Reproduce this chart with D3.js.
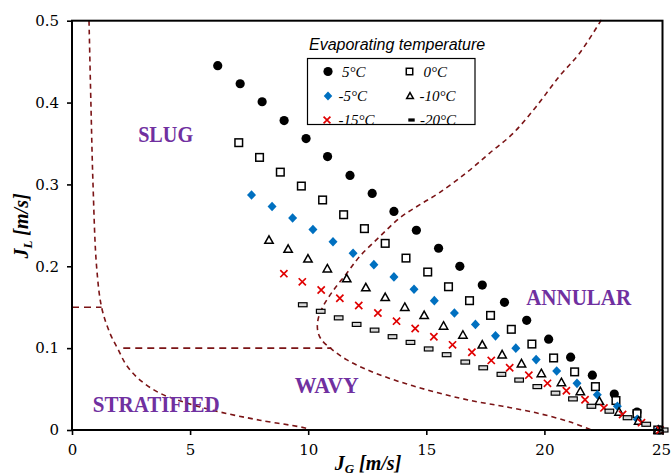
<!DOCTYPE html>
<html>
<head>
<meta charset="utf-8">
<script src="https://cdn.jsdelivr.net/npm/d3@7"></script>
<style>
  body { margin: 0; background: #fff; }
  svg { display: block; }
</style>
</head>
<body>
<svg id="chart" width="671" height="476"></svg>
<script>
// Axis ticks
const xTickValues = [0, 5, 10, 15, 20, 25];
const yTickValues = [0, 0.1, 0.2, 0.3, 0.4, 0.5];

// Evaporating temperature series: superficial gas (J_G) and liquid (J_L) velocities
const seriesLabels = ["5°C", "0°C", "-5°C", "-10°C", "-15°C", "-20°C"];

const jg_5  = [6.17, 7.12, 8.05, 8.98, 9.91, 10.82, 11.77, 12.71, 13.63, 14.58, 15.52, 16.42, 17.37, 18.31, 19.25, 20.18, 21.11, 22.03, 22.96, 23.92, 24.86];
const jl_5  = [0.445, 0.423, 0.401, 0.378, 0.356, 0.334, 0.311, 0.289, 0.267, 0.244, 0.222, 0.200, 0.177, 0.156, 0.134, 0.111, 0.089, 0.067, 0.044, 0.022, 0.000];

const jg_0  = [7.06, 7.94, 8.82, 9.71, 10.61, 11.50, 12.38, 13.26, 14.14, 15.06, 15.94, 16.83, 17.72, 18.60, 19.47, 20.39, 21.28, 22.16, 23.03, 23.92, 24.80];
const jl_0  = [0.351, 0.333, 0.315, 0.298, 0.281, 0.263, 0.246, 0.228, 0.210, 0.193, 0.175, 0.158, 0.140, 0.123, 0.105, 0.088, 0.071, 0.053, 0.036, 0.020, 0.000];

const jg_m5 = [7.60, 8.47, 9.34, 10.20, 11.05, 11.90, 12.78, 13.63, 14.48, 15.34, 16.19, 17.08, 17.93, 18.79, 19.65, 20.52, 21.38, 22.24, 23.09, 23.93, 24.80];
const jl_m5 = [0.287, 0.273, 0.259, 0.245, 0.230, 0.216, 0.202, 0.187, 0.172, 0.158, 0.143, 0.129, 0.115, 0.100, 0.086, 0.072, 0.057, 0.043, 0.029, 0.013, 0.000];

const jg_m10 = [8.34, 9.15, 9.99, 10.81, 11.63, 12.44, 13.26, 14.09, 14.91, 15.73, 16.55, 17.37, 18.21, 19.03, 19.87, 20.72, 21.52, 22.33, 23.16, 23.99, 24.82];
const jl_m10 = [0.232, 0.221, 0.209, 0.197, 0.185, 0.174, 0.162, 0.150, 0.140, 0.127, 0.116, 0.104, 0.092, 0.081, 0.069, 0.058, 0.047, 0.035, 0.022, 0.011, 0.000];

const jg_m15 = [8.97, 9.75, 10.55, 11.34, 12.14, 12.95, 13.74, 14.53, 15.32, 16.11, 16.93, 17.75, 18.53, 19.34, 20.13, 20.93, 21.72, 22.52, 23.31, 24.11, 24.90];
const jl_m15 = [0.191, 0.181, 0.171, 0.161, 0.152, 0.143, 0.133, 0.124, 0.114, 0.104, 0.095, 0.085, 0.076, 0.067, 0.057, 0.048, 0.037, 0.027, 0.019, 0.009, 0.000];

const jg_m20 = [9.77, 10.53, 11.29, 12.05, 12.81, 13.57, 14.33, 15.10, 15.86, 16.65, 17.41, 18.18, 18.93, 19.70, 20.47, 21.21, 21.99, 22.75, 23.52, 24.31, 25.05];
const jl_m20 = [0.153, 0.145, 0.137, 0.129, 0.122, 0.114, 0.107, 0.099, 0.092, 0.083, 0.076, 0.068, 0.061, 0.053, 0.045, 0.038, 0.029, 0.023, 0.015, 0.007, 0.000];

// Flow pattern transition boundaries
const slugStratJg = [0.72, 0.80, 0.89, 1.04, 1.26, 1.61, 1.96, 2.31, 2.88, 3.72, 4.85, 6.26, 7.95, 9.92, 10.05];
const slugStratJl = [0.500, 0.400, 0.300, 0.200, 0.149, 0.118, 0.098, 0.079, 0.061, 0.045, 0.033, 0.022, 0.012, 0.002, 0.000];

const annularJg = [22.41, 21.48, 20.63, 19.65, 18.66, 17.67, 16.69, 15.56, 14.71, 13.87, 13.02, 12.18, 11.62, 11.05, 10.63, 10.41, 10.41, 10.57, 10.98, 11.62, 12.46, 13.45, 14.43, 15.42, 16.41, 17.25, 18.24, 19.65, 21.06, 21.99];
const annularJl = [0.501, 0.460, 0.432, 0.395, 0.362, 0.338, 0.314, 0.290, 0.275, 0.259, 0.236, 0.212, 0.191, 0.170, 0.151, 0.134, 0.120, 0.110, 0.099, 0.086, 0.074, 0.063, 0.054, 0.046, 0.039, 0.034, 0.029, 0.021, 0.010, 0.000];

const wavyTopJg = [2.17, 10.98];
const wavyTopJl = [0.10, 0.10];

const stratTopJg = [0.00, 1.25];
const stratTopJl = [0.15, 0.15];

// Flow regime names
const regionNames = ["SLUG", "ANNULAR", "WAVY", "STRATIFIED"];

const svg = d3.select("#chart");
const x = d3.scaleLinear().domain([0, 25]).range([72, 662.5]);
const y = d3.scaleLinear().domain([0, 0.5]).range([430, 20.7]);

const boundaryColor = "#7b1416";
const line = d3.line().x(d => x(d[0])).y(d => y(d[1]));
const smooth = d3.line().x(d => x(d[0])).y(d => y(d[1])).curve(d3.curveCatmullRom.alpha(0.5));

// Boundary curves
const boundaries = [
  { jg: slugStratJg, jl: slugStratJl, gen: smooth, dash: "5,4" },
  { jg: annularJg, jl: annularJl, gen: smooth, dash: "5,4" },
  { jg: wavyTopJg, jl: wavyTopJl, gen: line, dash: "7,5" },
  { jg: stratTopJg, jl: stratTopJl, gen: line, dash: "7,5" }
];
svg.append("g").selectAll("path").data(boundaries).join("path")
  .attr("d", b => b.gen(d3.zip(b.jg, b.jl)))
  .attr("fill", "none")
  .attr("stroke", boundaryColor)
  .attr("stroke-width", 1.6)
  .attr("stroke-dasharray", b => b.dash);

// Region labels
const regionLayout = {
  "SLUG":       { jg: 2.80,  jl: 0.352, w: 55 },
  "ANNULAR":    { jg: 19.23, jl: 0.153, w: 105 },
  "WAVY":       { jg: 9.43,  jl: 0.045, w: 64 },
  "STRATIFIED": { jg: 0.88,  jl: 0.022, w: 127 }
};
svg.append("g").selectAll("text").data(regionNames).join("text")
  .attr("x", d => x(regionLayout[d].jg))
  .attr("y", d => y(regionLayout[d].jl))
  .attr("textLength", d => regionLayout[d].w)
  .attr("lengthAdjust", "spacingAndGlyphs")
  .attr("font-family", "'Liberation Serif', serif")
  .attr("font-weight", "bold")
  .attr("font-size", 23)
  .attr("fill", "#7030a0")
  .text(d => d);

// Marker drawers (s scales the glyph)
const markers = {
  circle: (g, cx, cy, s = 1) => g.append("circle").attr("cx", cx).attr("cy", cy).attr("r", 4.6 * s).attr("fill", "#000"),
  square: (g, cx, cy, s = 1) => g.append("rect").attr("x", cx - 3.8 * s).attr("y", cy - 3.8 * s).attr("width", 7.6 * s).attr("height", 7.6 * s)
      .attr("fill", "#fff").attr("stroke", "#000").attr("stroke-width", 1.5),
  diamond: (g, cx, cy, s = 1) => g.append("path").attr("d", `M${cx},${cy - 4.8 * s}L${cx + 4.5 * s},${cy}L${cx},${cy + 4.8 * s}L${cx - 4.5 * s},${cy}Z`)
      .attr("fill", "#0070c0"),
  triangle: (g, cx, cy, s = 1) => g.append("path").attr("d", `M${cx},${cy - 4.3 * s}L${cx + 4.2 * s},${cy + 3.2 * s}L${cx - 4.2 * s},${cy + 3.2 * s}Z`)
      .attr("fill", "#fff").attr("stroke", "#000").attr("stroke-width", 1.5).attr("stroke-linejoin", "miter"),
  cross: (g, cx, cy, s = 1) => g.append("path").attr("d", `M${cx - 3.6 * s},${cy - 3.6 * s}L${cx + 3.6 * s},${cy + 3.6 * s}M${cx + 3.6 * s},${cy - 3.6 * s}L${cx - 3.6 * s},${cy + 3.6 * s}`)
      .attr("stroke", "#e00000").attr("stroke-width", 1.7).attr("fill", "none"),
  dash: (g, cx, cy) => g.append("rect").attr("x", cx - 4.3).attr("y", cy - 2).attr("width", 8.6).attr("height", 4)
      .attr("fill", "#d9d9d9").attr("stroke", "#000").attr("stroke-width", 1.2),
  dashKey: (g, cx, cy) => g.append("rect").attr("x", cx - 3.2).attr("y", cy - 1.6).attr("width", 6.4).attr("height", 3.2).attr("fill", "#000")
};

const series = [
  { label: seriesLabels[0], jg: jg_5,   jl: jl_5,   marker: "circle" },
  { label: seriesLabels[1], jg: jg_0,   jl: jl_0,   marker: "square" },
  { label: seriesLabels[2], jg: jg_m5,  jl: jl_m5,  marker: "diamond" },
  { label: seriesLabels[3], jg: jg_m10, jl: jl_m10, marker: "triangle" },
  { label: seriesLabels[4], jg: jg_m15, jl: jl_m15, marker: "cross" },
  { label: seriesLabels[5], jg: jg_m20, jl: jl_m20, marker: "dash" }
];

const pts = svg.append("g");
series.forEach(s => {
  const g = pts.append("g");
  s.jg.forEach((v, i) => markers[s.marker](g, x(v), y(s.jl[i])));
});

// Axes
const font = "'DejaVu Serif', serif";
const xAxis = svg.append("g").attr("transform", `translate(0,${y(0)})`)
  .call(d3.axisBottom(x).tickValues(xTickValues).tickFormat(d3.format("d")).tickSize(5).tickPadding(9));
const yAxis = svg.append("g").attr("transform", `translate(${x(0)},0)`)
  .call(d3.axisLeft(y).tickValues(yTickValues).tickFormat(d => d === 0 ? "0" : d3.format(".1f")(d)).tickSize(5).tickPadding(8));
[xAxis, yAxis].forEach(a => {
  a.select(".domain").remove();
  a.selectAll(".tick line").attr("stroke", "#000").attr("stroke-width", 1.6);
  a.selectAll(".tick text").attr("font-family", font).attr("font-size", 15).attr("fill", "#000");
});
// keep the last x label inside the canvas
xAxis.selectAll(".tick text").filter(d => d === 25).attr("dx", -1.5);

// Plot frame
svg.append("rect")
  .attr("x", x(0)).attr("y", y(0.5))
  .attr("width", x(25) - x(0)).attr("height", y(0) - y(0.5))
  .attr("fill", "none").attr("stroke", "#000").attr("stroke-width", 2);

// Axis titles
const titleFont = "'Liberation Serif', serif";
const xt = svg.append("text")
  .attr("x", 368).attr("y", 469.5)
  .attr("text-anchor", "middle")
  .attr("font-family", titleFont).attr("font-weight", "bold").attr("font-style", "italic").attr("font-size", 20);
xt.append("tspan").text("J");
xt.append("tspan").attr("font-size", 13).attr("dy", 3).text("G");
xt.append("tspan").attr("dy", -3).text(" [m/s]");

const yt = svg.append("text")
  .attr("transform", "translate(28,226) rotate(-90)")
  .attr("text-anchor", "middle")
  .attr("font-family", titleFont).attr("font-weight", "bold").attr("font-style", "italic").attr("font-size", 20);
yt.append("tspan").text("J");
yt.append("tspan").attr("font-size", 13).attr("dy", 4).text("L");
yt.append("tspan").attr("dy", -4).text(" [m/s]");

// Legend
svg.append("text")
  .attr("x", 309).attr("y", 50)
  .attr("font-family", "'Liberation Sans', Arial, sans-serif").attr("font-style", "italic").attr("font-size", 16)
  .text("Evaporating temperature");

svg.append("rect")
  .attr("x", 307.5).attr("y", 58.5).attr("width", 167.5).attr("height", 66)
  .attr("fill", "#fff").attr("stroke", "#000").attr("stroke-width", 1.2);

const legendCells = [
  { mx: 328,   tx: 342,   cy: 71.5, marker: "circle",   s: 1 },
  { mx: 409.5, tx: 423.5, cy: 71.5, marker: "square",   s: 0.85 },
  { mx: 328,   tx: 338.5, cy: 96,   marker: "diamond",  s: 0.95 },
  { mx: 410,   tx: 419.5, cy: 96,   marker: "triangle", s: 0.8 },
  { mx: 327,   tx: 338.5, cy: 120,  marker: "cross",    s: 0.95 },
  { mx: 411.5, tx: 420,   cy: 120,  marker: "dashKey",  s: 1 }
];
const lg = svg.append("g");
legendCells.forEach((c, i) => {
  markers[c.marker](lg, c.mx, c.cy, c.s);
  lg.append("text")
    .attr("x", c.tx).attr("y", c.cy + 5)
    .attr("font-family", titleFont).attr("font-style", "italic").attr("font-size", 15)
    .text(series[i].label);
});
</script>
</body>
</html>
